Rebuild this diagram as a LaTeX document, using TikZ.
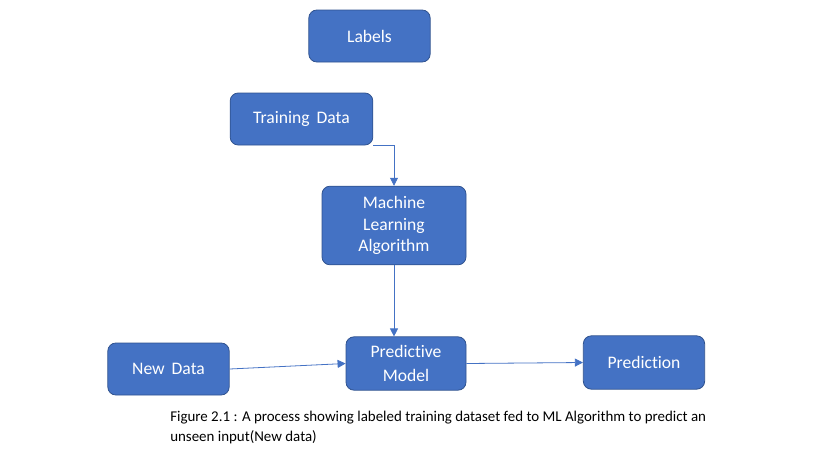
\documentclass[tikz,border=0pt]{standalone}
\usepackage{fontspec}
\setmainfont{Carlito}[Ligatures=NoCommon]
\usepackage{xcolor}
\usetikzlibrary{arrows.meta}
\definecolor{boxblue}{HTML}{4472C4}
\definecolor{boxedge}{HTML}{2F528F}

\begin{document}
\begin{tikzpicture}[x=0.75pt,y=-0.75pt,
	stage/.style={draw=boxedge,fill=boxblue,text=white,rounded corners=6pt,
		inner sep=0pt,align=center,font=\fontsize{13.2}{16}\selectfont,line width=0.6pt},
	flow/.style={draw=boxblue,line width=0.6pt,-{Triangle[length=6pt,width=6pt]}}]
		\useasboundingbox (0,0) rectangle (815,465);
		\node[stage,minimum width=91pt,minimum height=39pt] (L) at (369.5,36) {Labels};
		\node[stage,minimum width=107pt,minimum height=39pt] (TD) at (301.5,119) {Training\, Data};
		\node[stage,minimum width=108pt,minimum height=59pt] (ML) at (394,225.5) {Machine\\Learning\\Algorithm};
		\node[stage,minimum width=90pt,minimum height=40pt,font=\fontsize{13.2}{18}\selectfont] (PM) at (406,363.5) {Predictive\\Model};
		\node[stage,minimum width=91pt,minimum height=39pt] (ND) at (168.5,369) {New\, Data};
		\node[stage,minimum width=91pt,minimum height=40pt] (P) at (644,362.5) {Prediction};
		%
		\draw[flow] (TD.south east) -| (ML);
		\draw[flow] (ML.south) -- (ML.south |- PM.north);
		\draw[flow] (ND.east) -- (PM.west);
		\draw[flow] (PM.east) -- (P.west);
		%
		\node[anchor=north west,align=left,inner sep=0pt,font=\fontsize{11.2}{15}\selectfont] (cap) at (170,411)
		{Figure 2.1 : A process showing labeled training dataset fed to ML Algorithm to predict an\\unseen input(New data)};
\end{tikzpicture}
\end{document}
